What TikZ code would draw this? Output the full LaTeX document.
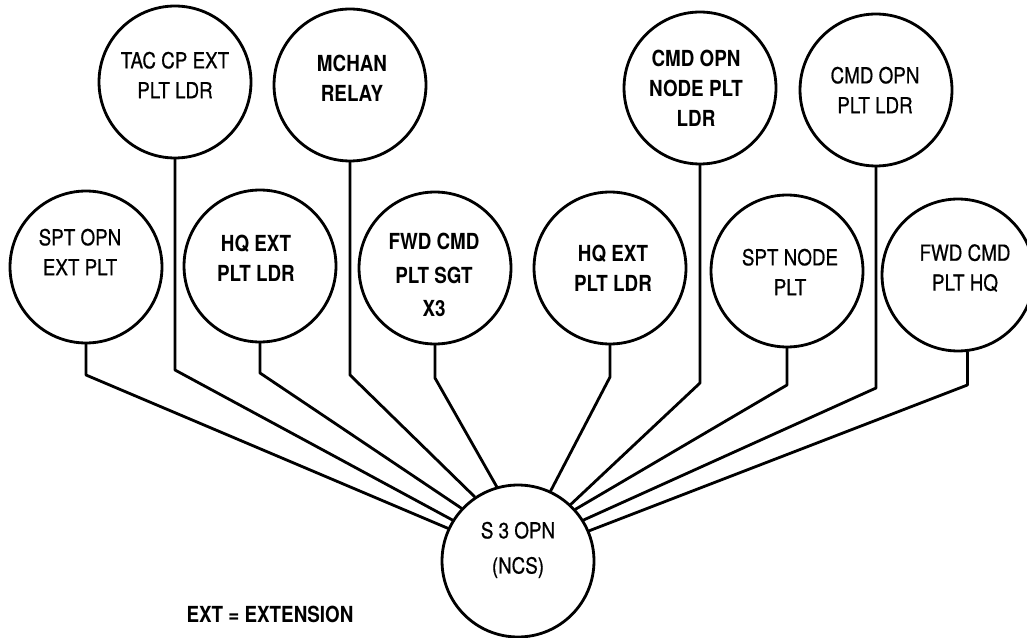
\documentclass[tikz,border=0pt]{standalone}
\usepackage{fontspec}
\setmainfont{TeX Gyre Heros}[FakeStretch=0.85]
\newfontfamily\medfont{TeX Gyre Heros}[FakeStretch=0.85, FakeBold=0.6]
\begin{document}
\begin{tikzpicture}[x=0.02cm, y=-0.02cm, line width=1.6pt, line cap=round, line join=round,
  unit/.style={circle, draw, minimum size=3.04cm, inner sep=0pt},
  lbl/.style={align=center, font=\fontsize{12.6}{17}\selectfont\medfont},
  blbl/.style={lbl, font=\fontsize{12.6}{17}\selectfont\bfseries}]
\useasboundingbox (0,0) rectangle (1027,638);
% upper row
\node[unit] (tac) at (175,82) {};
\node[unit] (mchan) at (350,85) {};
\node[unit] (cmdnode) at (700,88) {};
\node[unit] (cmdplt) at (876,90) {};
% lower row
\node[unit] (sptopn) at (86,267) {};
\node[unit] (hqext1) at (260,266) {};
\node[unit] (fwdsgt) at (435,268) {};
\node[unit] (hqext2) at (610,268) {};
\node[unit] (sptnode) at (787,271) {};
\node[unit] (fwdhq) at (958,275) {};
% net control station
\node[unit] (ncs) at (518,561) {};
% texts
\node[lbl] (tactxt) at (175,75) {TAC CP EXT\\PLT LDR};
\node[blbl] (mchantxt) at (352,78) {MCHAN\\RELAY};
\node[blbl] (cmdnodetxt) at (696,88) {CMD OPN\\NODE PLT\\LDR};
\node[lbl] (cmdplttxt) at (875,90) {CMD OPN\\PLT LDR};
\node[lbl] (sptopntxt) at (80,252) {SPT OPN\\EXT PLT};
\node[blbl] (hqext1txt) at (256,258) {HQ EXT\\PLT LDR};
\node[blbl] (fwdsgttxt) at (434,275) {FWD CMD\\[2pt]PLT SGT\\[2pt]X3};
\node[blbl] (hqext2txt) at (613,268) {HQ EXT\\PLT LDR};
\node[lbl] (sptnodetxt) at (790,272) {SPT NODE\\PLT};
\node[lbl] (fwdhqtxt) at (965,268) {FWD CMD\\PLT HQ};
\node[lbl] (ncstxt) at (518,550) {S 3 OPN\\[3pt](NCS)};
\node[blbl] (ext) at (270,614) {EXT = EXTENSION};
% connectors: down, then across to the NCS
\foreach \n/\k/\a in {sptopn.south/375/155, tac.south/370/148, hqext1.south/373/137,
  mchan.south/375/124, fwdsgt.south/378/106, hqext2.south/377/65, cmdnode.south/383/47,
  sptnode.south/385/42, cmdplt.south/388/32, fwdhq.-83/385/23}
  \draw (\n) -- (\n |- 0,\k) -- (ncs.\a);
\end{tikzpicture}
\end{document}
